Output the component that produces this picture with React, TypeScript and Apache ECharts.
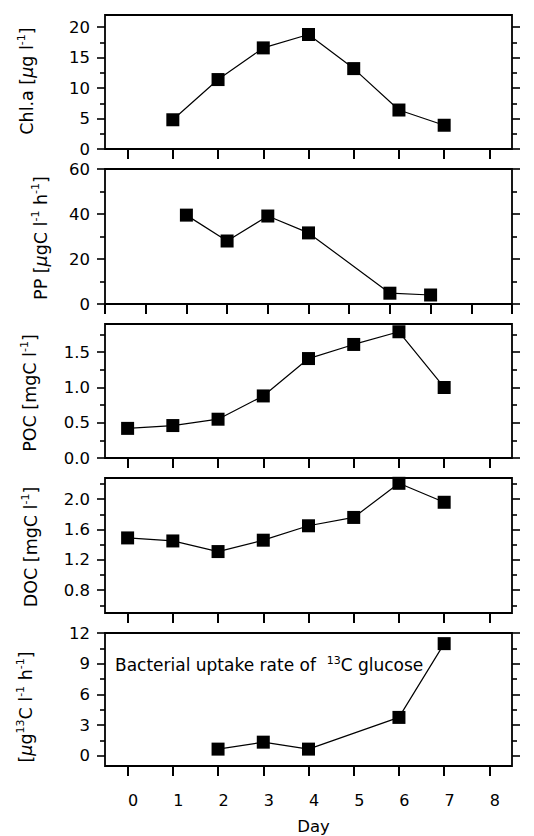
import React, { useEffect, useRef } from 'react';
import * as echarts from 'echarts';

// ---------- data ----------
const dayTicks = [0, 1, 2, 3, 4, 5, 6, 7, 8];
const dayLabels = ['0', '1', '2', '3', '4', '5', '6', '7', '8'];

const chlDays = [1, 2, 3, 4, 5, 6, 7];
const chlValues = [4.8, 11.4, 16.6, 18.8, 13.2, 6.4, 3.9];
const chlTicks = [0, 5, 10, 15, 20];
const chlMinor = [2.5, 7.5, 12.5, 17.5];

const ppTicksX = [0, 1, 2, 3, 4, 5, 6, 7, 8, 9, 10];
const ppPositions = [2, 3, 4, 5, 7, 8];
const ppValues = [39.5, 28.0, 39.1, 31.6, 4.8, 4.0];
const ppTicks = [0, 20, 40, 60];
const ppMinor = [10, 30, 50];

const pocDays = [0, 1, 2, 3, 4, 5, 6, 7];
const pocValues = [0.42, 0.46, 0.55, 0.88, 1.41, 1.61, 1.79, 1.0];
const pocTicks = [0, 0.5, 1.0, 1.5];
const pocMinor = [0.25, 0.75, 1.25, 1.75];

const docDays = [0, 1, 2, 3, 4, 5, 6, 7];
const docValues = [1.49, 1.45, 1.31, 1.46, 1.65, 1.76, 2.21, 1.96];
const docTicks = [0.8, 1.2, 1.6, 2.0];
const docMinor = [0.6, 1.0, 1.4, 1.8, 2.2];

const uptakeDays = [2, 3, 4, 6, 7];
const uptakeValues = [0.65, 1.33, 0.65, 3.75, 10.96];
const uptakeTicks = [0, 3, 6, 9, 12];
const uptakeMinor = [1.5, 4.5, 7.5, 10.5];

const FONT = 'DejaVu Sans';

const zip = (xs: number[], ys: number[]) => xs.map((x, i) => [x, ys[i]]);

interface Panel {
  top: number;
  height: number;
  xMin: number;
  xMax: number;
  xTicks: number[];
  yMin: number;
  yMax: number;
  yMajor: number[];
  yMinor: number[];
  decimals: number;
  data: number[][];
}

const panels: Panel[] = [
  { top: 15, height: 134, xMin: -0.5, xMax: 8.5, xTicks: dayTicks, yMin: 0, yMax: 22, yMajor: chlTicks, yMinor: chlMinor, decimals: 0, data: zip(chlDays, chlValues) },
  { top: 169, height: 135, xMin: 0, xMax: 10, xTicks: ppTicksX, yMin: 0, yMax: 60, yMajor: ppTicks, yMinor: ppMinor, decimals: 0, data: zip(ppPositions, ppValues) },
  { top: 324, height: 134, xMin: -0.5, xMax: 8.5, xTicks: dayTicks, yMin: 0, yMax: 1.9, yMajor: pocTicks, yMinor: pocMinor, decimals: 1, data: zip(pocDays, pocValues) },
  { top: 478, height: 135, xMin: -0.5, xMax: 8.5, xTicks: dayTicks, yMin: 0.5, yMax: 2.28, yMajor: docTicks, yMinor: docMinor, decimals: 1, data: zip(docDays, docValues) },
  { top: 633, height: 134, xMin: -0.5, xMax: 8.5, xTicks: dayTicks, yMin: -1, yMax: 12, yMajor: uptakeTicks, yMinor: uptakeMinor, decimals: 0, data: zip(uptakeDays, uptakeValues) },
];

const LEFT = 105;
const WIDTH = 407;

function buildOption() {
  const grid: any[] = [];
  const xAxis: any[] = [];
  const yAxis: any[] = [];
  const series: any[] = [];
  const last = panels.length - 1;

  panels.forEach((p, i) => {
    grid.push({
      left: LEFT,
      top: p.top,
      width: WIDTH,
      height: p.height,
      show: true,
      borderColor: '#000',
      borderWidth: 1.8,
      backgroundColor: 'transparent',
      containLabel: false,
    });
    xAxis.push({
      type: 'value',
      gridIndex: i,
      min: p.xMin,
      max: p.xMax,
      position: 'bottom',
      axisLine: { show: false, onZero: false },
      splitLine: { show: false },
      axisTick: {
        show: true,
        inside: false,
        length: 10,
        lineStyle: { color: '#000', width: 2 },
        customValues: p.xTicks,
      },
      axisLabel: i === last
        ? {
            show: true,
            customValues: dayTicks,
            formatter: (v: number) => dayLabels[dayTicks.indexOf(v)] ?? String(v),
            fontFamily: FONT,
            fontSize: 16,
            color: '#000',
            margin: 26,
            padding: [0, 0, 0, 11],
          }
        : { show: false },
      name: i === last ? 'Day' : '',
      nameLocation: 'middle',
      nameGap: 52,
      nameTextStyle: { fontFamily: FONT, fontSize: 16.5, color: '#000', padding: [0, 0, 0, 10] },
    });
    const base = i * 4;
    const fmt = (v: number) => v.toFixed(p.decimals);
    // left major
    yAxis.push({
      type: 'value', gridIndex: i, position: 'left', min: p.yMin, max: p.yMax,
      axisLine: { show: false, onZero: false }, splitLine: { show: false },
      axisTick: { show: true, inside: false, length: 8, lineStyle: { color: '#000', width: 1.6 }, customValues: p.yMajor },
      axisLabel: { show: true, customValues: p.yMajor, formatter: fmt, fontFamily: FONT, fontSize: 16.5, color: '#000', margin: 15 },
    });
    // left minor
    yAxis.push({
      type: 'value', gridIndex: i, position: 'left', min: p.yMin, max: p.yMax,
      axisLine: { show: false, onZero: false }, splitLine: { show: false },
      axisTick: { show: true, inside: false, length: 5, lineStyle: { color: '#000', width: 1.6 }, customValues: p.yMinor },
      axisLabel: { show: false },
    });
    // right major
    yAxis.push({
      type: 'value', gridIndex: i, position: 'right', min: p.yMin, max: p.yMax,
      axisLine: { show: false, onZero: false }, splitLine: { show: false },
      axisTick: { show: true, inside: false, length: 8, lineStyle: { color: '#000', width: 1.6 }, customValues: p.yMajor },
      axisLabel: { show: false },
    });
    // right minor
    yAxis.push({
      type: 'value', gridIndex: i, position: 'right', min: p.yMin, max: p.yMax,
      axisLine: { show: false, onZero: false }, splitLine: { show: false },
      axisTick: { show: true, inside: false, length: 5, lineStyle: { color: '#000', width: 1.6 }, customValues: p.yMinor },
      axisLabel: { show: false },
    });
    series.push({
      type: 'line',
      xAxisIndex: i,
      yAxisIndex: base,
      data: p.data,
      symbol: 'rect',
      symbolSize: 13,
      showSymbol: true,
      itemStyle: { color: '#000' },
      lineStyle: { color: '#000', width: 1.2 },
      z: 5,
    });
  });

  const makeRich = (size: number) => ({
    n: { fontFamily: FONT, fontSize: size, lineHeight: size + 4, color: '#000', verticalAlign: 'middle' },
    i: { fontFamily: FONT, fontSize: size, lineHeight: size + 4, color: '#000', fontStyle: 'italic', verticalAlign: 'middle' },
    s: { fontFamily: FONT, fontSize: Math.round(size * 0.62), lineHeight: Math.round(size * 0.62), color: '#000', verticalAlign: 'top' },
  });

  const yName = (text: string, x: number, y: number) => ({
    type: 'text',
    x,
    y,
    rotation: Math.PI / 2,
    style: {
      text,
      rich: makeRich(17.5),
      align: 'center',
      verticalAlign: 'middle',
      fill: '#000',
    },
  });

  const graphic = [
    yName('{n|Chl.a [}{i|µ}{n|g l}{s|-1}{n|]}', 27, 81),
    yName('{n|PP [}{i|µ}{n|gC l}{s|-1}{n| h}{s|-1}{n|]}', 41, 238),
    yName('{n|POC [mgC l}{s|-1}{n|]}', 30, 393),
    yName('{n|DOC [mgC l}{s|-1}{n|]}', 31, 547),
    yName('{n|[}{i|µ}{n|g}{s|13}{n|C l}{s|-1}{n| h}{s|-1}{n|]}', 26, 707),
    {
      type: 'text',
      x: 115,
      y: 665,
      style: {
        text: '{n|Bacterial uptake rate of  }{s|13}{n|C glucose}',
        rich: makeRich(17),
        align: 'left',
        verticalAlign: 'middle',
        fill: '#000',
      },
    },
  ];

  return {
    animation: false,
    backgroundColor: '#fff',
    grid,
    xAxis,
    yAxis,
    series,
    graphic,
  };
}

export default function App() {
  const ref = useRef<HTMLDivElement>(null);
  useEffect(() => {
    if (!ref.current) return;
    const chart = echarts.init(ref.current, undefined, { renderer: 'svg' });
    chart.setOption(buildOption() as any);
    return () => chart.dispose();
  }, []);
  return (
    <div
      ref={ref}
      style={{ position: 'absolute', left: 0, top: 0, width: 534, height: 836, background: '#fff' }}
    />
  );
}
